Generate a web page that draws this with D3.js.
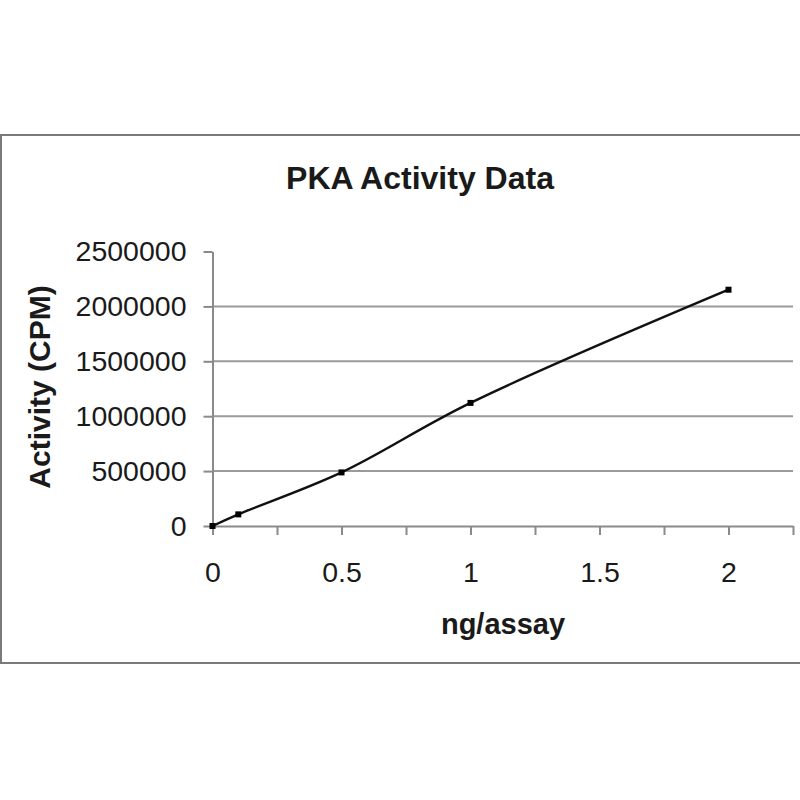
<!DOCTYPE html>
<html>
<head>
<meta charset="utf-8">
<script src="https://cdn.jsdelivr.net/npm/d3@7"></script>
<style>
  html, body { margin: 0; padding: 0; background: #fff; }
  svg { display: block; font-family: "Liberation Sans", Arial, sans-serif; }
</style>
</head>
<body>
<svg id="chart" width="800" height="800"></svg>
<script>
// ---- data ----
const doseNg = [0, 0.1, 0.5, 1, 2];
const activityCPM = [0, 106000, 488000, 1121000, 2152000];
const yTickValues = [0, 500000, 1000000, 1500000, 2000000, 2500000];
const xTickValues = [0, 0.25, 0.5, 0.75, 1, 1.25, 1.5, 1.75, 2, 2.25];
const xTickLabels = ["0", "", "0.5", "", "1", "", "1.5", "", "2", ""];
const titleText = "PKA Activity Data";
const xAxisTitle = "ng/assay";
const yAxisTitle = "Activity (CPM)";

const svg = d3.select("#chart");

// outer frame
svg.append("rect")
  .attr("x", 1).attr("y", 135)
  .attr("width", 820).attr("height", 528)
  .attr("fill", "#fff")
  .attr("stroke", "#7a7a7a").attr("stroke-width", 2);

const x = d3.scaleLinear().domain([0, 2.25]).range([212.5, 793]);
const y = d3.scaleLinear().domain([0, 2500000]).range([526, 251.5]);

// gridlines
svg.append("g")
  .selectAll("line")
  .data(yTickValues.filter(v => v > 0 && v < 2500000))
  .join("line")
  .attr("x1", x(0)).attr("x2", x(2.25))
  .attr("y1", d => y(d)).attr("y2", d => y(d))
  .attr("stroke", "#9a9a9a").attr("stroke-width", 2);

// y axis
const yAxis = svg.append("g")
  .attr("transform", `translate(${x(0)},0)`)
  .call(d3.axisLeft(y).tickValues(yTickValues).tickSize(9).tickSizeOuter(0).tickPadding(17)
    .tickFormat(d => String(d)));
yAxis.select(".domain").attr("stroke", "#8a8a8a").attr("stroke-width", 2);
yAxis.selectAll(".tick line").attr("stroke", "#8a8a8a").attr("stroke-width", 2);
yAxis.selectAll(".tick text")
  .attr("font-size", 28.5).attr("fill", "#1a1a1a")
  .attr("font-family", "'Liberation Sans', Arial, sans-serif");

// x axis
const xAxis = svg.append("g")
  .attr("transform", `translate(0,${y(0)})`)
  .call(d3.axisBottom(x).tickValues(xTickValues).tickSize(9).tickSizeOuter(0).tickPadding(27)
    .tickFormat((d, i) => xTickLabels[i]));
xAxis.select(".domain").attr("stroke", "#8a8a8a").attr("stroke-width", 2);
xAxis.selectAll(".tick line").attr("stroke", "#8a8a8a").attr("stroke-width", 2);
xAxis.selectAll(".tick text")
  .attr("font-size", 28.5).attr("fill", "#1a1a1a")
  .attr("font-family", "'Liberation Sans', Arial, sans-serif");

// data line (smoothed)
const pts = doseNg.map((d, i) => [d, activityCPM[i]]);
svg.append("path")
  .datum(pts)
  .attr("fill", "none")
  .attr("stroke", "#111")
  .attr("stroke-width", 2.4)
  .attr("d", d3.line().x(d => x(d[0])).y(d => y(d[1])).curve(d3.curveCatmullRom.alpha(0.5)));

// markers
svg.append("g")
  .selectAll("rect")
  .data(pts)
  .join("rect")
  .attr("x", d => x(d[0]) - 3).attr("y", d => y(d[1]) - 3)
  .attr("width", 6).attr("height", 6)
  .attr("fill", "#000");

// title
svg.append("text")
  .attr("x", 420).attr("y", 189)
  .attr("text-anchor", "middle")
  .attr("font-size", 32).attr("font-weight", "bold").attr("fill", "#1a1a1a")
  .text(titleText);

// x axis title
svg.append("text")
  .attr("x", 503).attr("y", 634)
  .attr("text-anchor", "middle")
  .attr("font-size", 29).attr("font-weight", "bold").attr("fill", "#1a1a1a")
  .text(xAxisTitle);

// y axis title
svg.append("text")
  .attr("transform", "translate(50,387) rotate(-90)")
  .attr("text-anchor", "middle")
  .attr("font-size", 30).attr("font-weight", "bold").attr("fill", "#1a1a1a")
  .text(yAxisTitle);
</script>
</body>
</html>
